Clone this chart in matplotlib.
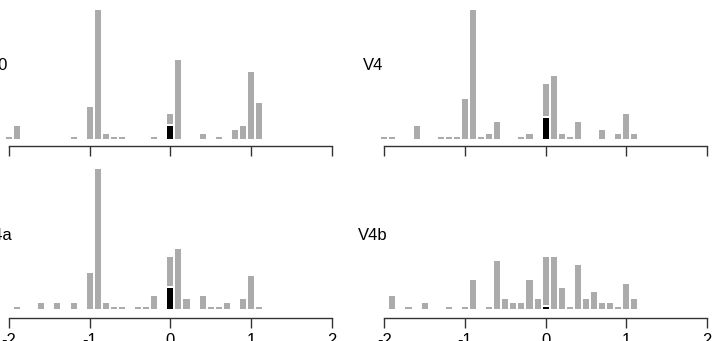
import matplotlib
matplotlib.use("Agg")
import matplotlib.pyplot as plt

# counts per 0.1-wide bin
v0_bins = [-2.0, -1.9, -1.2, -1.0, -0.9, -0.8, -0.7, -0.6, -0.2, 0.0, 0.1, 0.4, 0.6, 0.8, 0.9, 1.0, 1.1]
v0_counts = [1, 4, 1, 9, 34, 2, 1, 1, 1, 7, 21, 2, 1, 3, 4, 18, 10]

v4_bins = [-2.0, -1.9, -1.6, -1.3, -1.2, -1.1, -1.0, -0.9, -0.8, -0.7, -0.6, -0.3, -0.2,
           0.0, 0.1, 0.2, 0.3, 0.4, 0.7, 0.9, 1.0, 1.1]
v4_counts = [1, 1, 4, 1, 1, 1, 11, 34, 1, 2, 5, 1, 2, 15, 17, 2, 1, 5, 3, 2, 7, 2]

v4a_bins = [-1.9, -1.6, -1.4, -1.2, -1.0, -0.9, -0.8, -0.7, -0.6, -0.4, -0.3, -0.2,
            0.0, 0.1, 0.2, 0.4, 0.5, 0.6, 0.7, 0.9, 1.0, 1.1]
v4a_counts = [1, 2, 2, 2, 10, 37, 2, 1, 1, 1, 1, 4, 14, 16, 3, 4, 1, 1, 2, 3, 9, 1]

v4b_bins = [-1.9, -1.7, -1.5, -1.2, -1.0, -0.9, -0.7, -0.6, -0.5, -0.4, -0.3, -0.2, -0.1,
            0.0, 0.1, 0.2, 0.3, 0.4, 0.5, 0.6, 0.7, 0.8, 0.9, 1.0, 1.1]
v4b_counts = [4, 1, 2, 1, 1, 8, 1, 13, 3, 2, 2, 8, 3, 14, 14, 6, 1, 12, 3, 5, 2, 2, 1, 7, 3]

# highlighted (black) share of the zero bin
zero_counts = {"V0": 4, "V4": 6, "V4a": 6, "V4b": 1}

panel_names = ["V0", "V4", "V4a", "V4b"]
panel_bins = [v0_bins, v4_bins, v4a_bins, v4b_bins]
panel_counts = [v0_counts, v4_counts, v4a_counts, v4b_counts]
tick_values = [-2, -1, 0, 1, 2]

W, H = 715, 341
PX_PER_UNIT = 80.67
PX_PER_COUNT = 3.85
GRAY = "#ababab"
AXIS = "#333333"

plt.rcParams["font.family"] = ["Liberation Sans", "DejaVu Sans"]
plt.rcParams["axes.unicode_minus"] = False

fig = plt.figure(figsize=(W / 100, H / 100), dpi=100)

# x of tick -2, and (baseline y, top y, spine offset) in pixels from top-left
col_x = [9.0, 384.3]
rows = [(140.3, 0.0, 6.0), (310.0, 164.0, 7.7)]

for i, name in enumerate(panel_names):
    r, c = divmod(i, 2)
    base, top, offset = rows[r]
    left = col_x[c] - 0.1 * PX_PER_UNIT
    width = 4.2 * PX_PER_UNIT
    ax = fig.add_axes([left / W, (H - base) / H, width / W, (base - top) / H])
    ax.set_xlim(-2.1, 2.1)
    ax.set_ylim(0, (base - top) / PX_PER_COUNT)

    ax.bar(panel_bins[i], panel_counts[i], width=0.1, color=GRAY,
           edgecolor="white", linewidth=1.44, clip_on=False)
    ax.bar([0.0], [zero_counts[name]], width=0.1, color="black",
           edgecolor="white", linewidth=1.44, clip_on=False)

    for side in ["top", "right", "left"]:
        ax.spines[side].set_visible(False)
    ax.spines["bottom"].set_position(("outward", offset * 0.72))
    ax.spines["bottom"].set_bounds(-2, 2)
    ax.spines["bottom"].set_color(AXIS)
    ax.spines["bottom"].set_linewidth(1.0)
    ax.set_yticks([])
    ax.set_xticks(tick_values)
    ax.set_xticklabels([str(t) for t in tick_values])
    ax.tick_params(axis="x", direction="out", length=7.2, width=1.0,
                   color=AXIS, labelsize=12, pad=4, labelbottom=(r == 1))

    label_x = (373.0 if c == 1 else -2.3) / W
    label_y = (H - (65.0 if r == 0 else 235.0)) / H
    fig.text(label_x, label_y, name, ha="center", va="center", fontsize=12)

fig.savefig("out.png", dpi=100)
